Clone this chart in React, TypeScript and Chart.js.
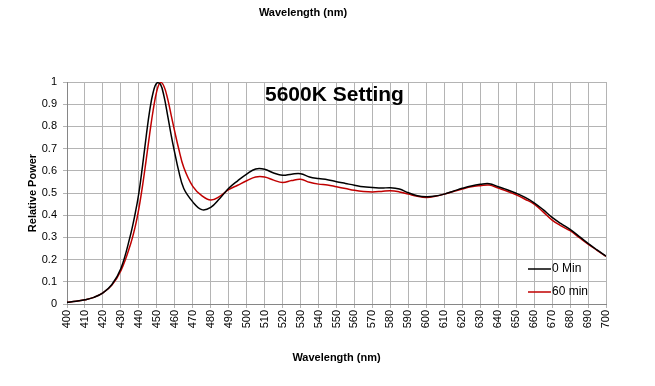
import React, { useEffect, useRef } from "react";
import { Chart, registerables } from "chart.js";

Chart.register(...registerables);

const wavelengths = [
  400, 405, 410, 415, 420, 425, 430, 435, 438, 440, 442, 444, 446, 448, 450, 452, 454, 456, 458, 460,
  462, 465, 470, 475, 480, 485, 490, 495, 500, 505, 510, 515, 520, 525, 530, 535, 540, 545, 550,
  555, 560, 565, 570, 575, 580, 585, 590, 595, 600, 605, 610, 615, 620, 625, 630, 635, 640,
  645, 650, 655, 660, 665, 670, 675, 680, 685, 690, 695, 700,
];

const min0 = [
  0.008, 0.012, 0.019, 0.03, 0.05, 0.088, 0.16, 0.3, 0.41, 0.5, 0.62, 0.75, 0.87, 0.955, 0.995, 0.99, 0.935, 0.85, 0.76, 0.68,
  0.605, 0.52, 0.46, 0.425, 0.435, 0.475, 0.521, 0.555, 0.585, 0.608, 0.607, 0.59, 0.58, 0.585, 0.587, 0.572, 0.565, 0.56, 0.551,
  0.543, 0.535, 0.528, 0.525, 0.522, 0.524, 0.518, 0.501, 0.488, 0.483, 0.486, 0.495, 0.508, 0.521, 0.532, 0.539, 0.542, 0.528,
  0.515, 0.499, 0.48, 0.456, 0.425, 0.39, 0.362, 0.336, 0.305, 0.273, 0.244, 0.216,
];

const min60 = [
  0.008, 0.012, 0.019, 0.03, 0.05, 0.085, 0.15, 0.26, 0.35, 0.43, 0.53, 0.645, 0.765, 0.875, 0.96, 0.998, 0.98, 0.925, 0.85, 0.775,
  0.705, 0.615, 0.53, 0.488, 0.468, 0.485, 0.515, 0.535, 0.555, 0.572, 0.572, 0.558, 0.547, 0.556, 0.562, 0.548, 0.54, 0.536, 0.528,
  0.52, 0.512, 0.507, 0.505, 0.507, 0.51, 0.505, 0.495, 0.485, 0.48, 0.485, 0.495, 0.507, 0.518, 0.528, 0.533, 0.536, 0.522,
  0.508, 0.492, 0.472, 0.45, 0.415, 0.378, 0.352, 0.33, 0.3, 0.27, 0.242, 0.214,
];

const seriesLabels = ["0 Min", "60 min"];
const seriesColors = ["#000000", "#c00000"];
const chartTitle = "5600K Setting";
const xTitle = "Wavelength (nm)";
const yTitle = "Relative Power";

const FONT = "'Liberation Sans', Arial, sans-serif";

const overlayPlugin = {
  id: "overlay",
  afterDraw(chart: any) {
    const { ctx, chartArea } = chart;
    ctx.save();
    ctx.font = `bold 21px ${FONT}`;
    ctx.fillStyle = "#000";
    ctx.textAlign = "left";
    ctx.textBaseline = "middle";
    ctx.fillText(chartTitle, chartArea.left + 198, chartArea.top + 13);
    ctx.font = `12px ${FONT}`;
    chart.data.datasets.forEach((ds: any, i: number) => {
      const y = chartArea.top + 187 + i * 23;
      const x0 = chartArea.left + 461;
      ctx.strokeStyle = ds.borderColor;
      ctx.lineWidth = 1.5;
      ctx.beginPath();
      ctx.moveTo(x0, y);
      ctx.lineTo(x0 + 23, y);
      ctx.stroke();
      ctx.fillStyle = "#000";
      ctx.fillText(ds.label, x0 + 24, y);
    });
    ctx.restore();
  },
};

export default function App() {
  const ref = useRef<HTMLCanvasElement | null>(null);
  useEffect(() => {
    document.body.style.margin = "0";
    const canvas = ref.current;
    if (!canvas) return;
    const chart = new Chart(canvas, {
      type: "line",
      data: {
        datasets: [min0, min60].map((vals, si) => ({
          label: seriesLabels[si],
          data: wavelengths.map((w, i) => ({ x: w, y: vals[i] })),
          borderColor: seriesColors[si],
          backgroundColor: seriesColors[si],
          borderWidth: 1.5,
          pointRadius: 0,
          tension: 0.4,
          fill: false,
        })),
      },
      options: {
        responsive: false,
        animation: false,
        layout: { padding: { left: 0, right: 49, top: 0, bottom: 0 } },
        plugins: {
          legend: { display: false },
          tooltip: { enabled: false },
          title: {
            display: true,
            text: xTitle,
            color: "#000",
            font: { family: FONT, size: 11, weight: "bold" },
            padding: { top: 6, bottom: 62.8 },
          },
        },
        scales: {
          x: {
            type: "linear",
            min: 400,
            max: 700,
            afterFit: (s: any) => {
              s.height = 82;
            },
            ticks: {
              stepSize: 10,
              autoSkip: false,
              minRotation: 90,
              maxRotation: 90,
              padding: 2,
              color: "#000",
              font: { family: FONT, size: 11 },
              callback: (v: any) => String(v),
            },
            grid: { color: "#b4b4b4", lineWidth: 1, tickLength: 4 },
            border: { color: "#868686" },
            title: {
              display: true,
              text: xTitle,
              color: "#000",
              font: { family: FONT, size: 11, weight: "bold" },
              padding: { top: 0, bottom: 21.4 },
            },
          },
          y: {
            min: 0,
            max: 1,
            afterFit: (s: any) => {
              s.width = 67;
            },
            ticks: {
              stepSize: 0.1,
              padding: 6,
              color: "#000",
              font: { family: FONT, size: 11 },
              callback: (v: any) => String(Math.round(Number(v) * 10) / 10),
            },
            grid: { color: "#b4b4b4", lineWidth: 1, tickLength: 4 },
            border: { color: "#868686" },
            title: {
              display: true,
              text: yTitle,
              color: "#000",
              font: { family: FONT, size: 11, weight: "bold" },
              padding: { top: 26.4, bottom: 0 },
            },
          },
        },
      },
      plugins: [overlayPlugin],
    });
    return () => chart.destroy();
  }, []);
  return (
    <div style={{ width: 655, height: 386, background: "#fff" }}>
      <canvas ref={ref} width={655} height={386} />
    </div>
  );
}
